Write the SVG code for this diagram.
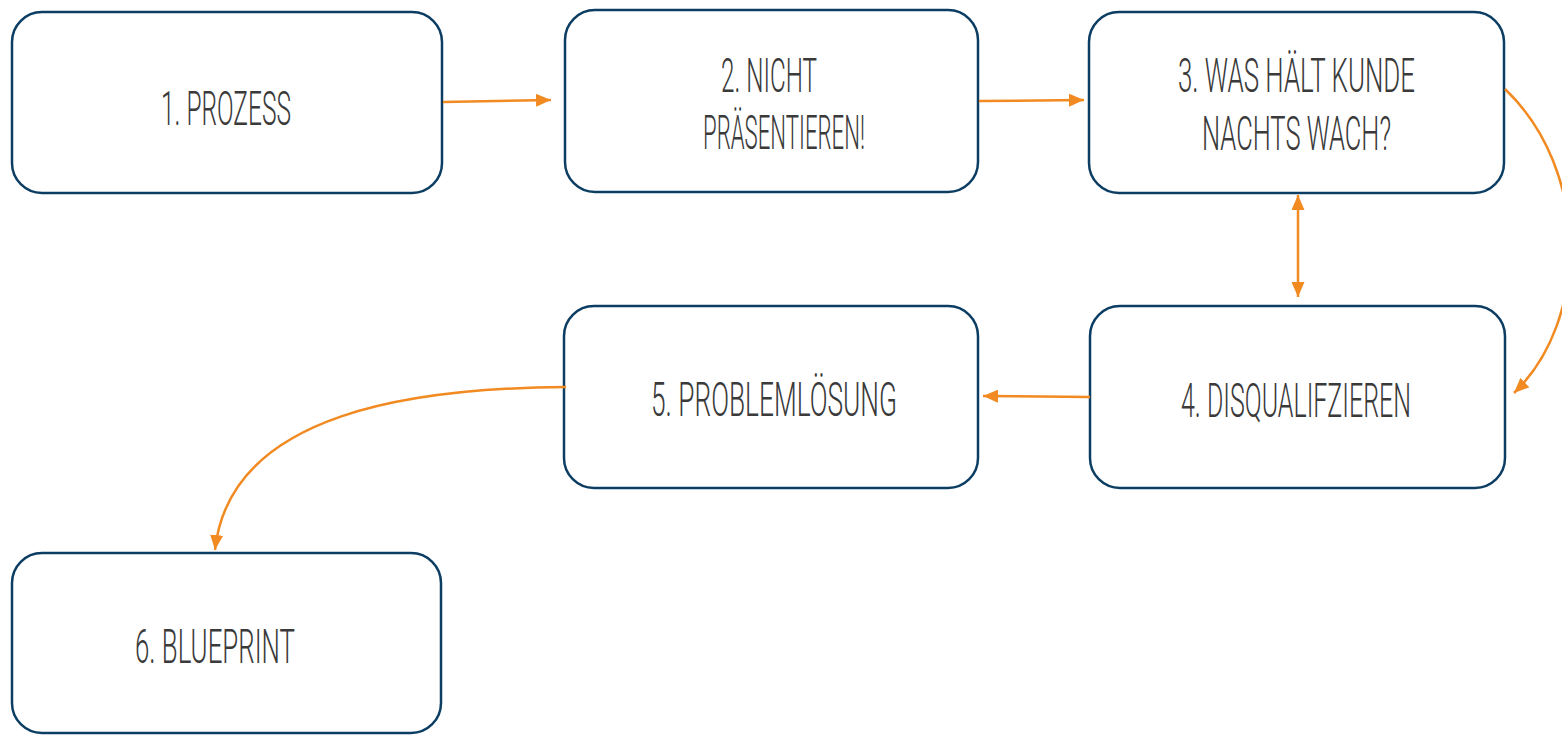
<svg xmlns="http://www.w3.org/2000/svg" width="1562" height="735" viewBox="0 0 1562 735">
  <style>
    .box { fill: #ffffff; stroke: #0c3d63; stroke-width: 2.5; }
    .lbl { font-family: Roboto, "Liberation Sans", Arial, sans-serif; font-weight: 300; font-size: 49px; fill: #3a3a3a; }
    .con { fill: none; stroke: #f28a22; stroke-width: 2.5; }
  </style>
  <defs>
    <marker id="ah" markerUnits="userSpaceOnUse" markerWidth="15" markerHeight="13" refX="15" refY="6.5" orient="auto-start-reverse">
      <path d="M0,0 L15,6.5 L0,13 z" fill="#f28a22"/>
    </marker>
  </defs>
  <rect width="1562" height="735" fill="#ffffff"/>

  <g id="n1">
    <rect class="box" x="12" y="12" width="430" height="181" rx="30"/>
    <text class="lbl" x="161" y="125" textLength="130" lengthAdjust="spacingAndGlyphs">1. PROZESS</text>
  </g>
  <g id="n2">
    <rect class="box" x="565" y="10" width="413" height="182" rx="30"/>
    <text class="lbl" x="721" y="92" textLength="96" lengthAdjust="spacingAndGlyphs">2. NICHT</text>
    <text class="lbl" x="703" y="149" textLength="162" lengthAdjust="spacingAndGlyphs">PRÄSENTIEREN!</text>
  </g>
  <g id="n3">
    <rect class="box" x="1089" y="12" width="415" height="181" rx="30"/>
    <text class="lbl" x="1178" y="92" textLength="237" lengthAdjust="spacingAndGlyphs">3. WAS HÄLT KUNDE</text>
    <text class="lbl" x="1202" y="150" textLength="189" lengthAdjust="spacingAndGlyphs">NACHTS WACH?</text>
  </g>
  <g id="n4">
    <rect class="box" x="1090" y="306" width="415" height="182" rx="30"/>
    <text class="lbl" x="1181" y="417" textLength="230" lengthAdjust="spacingAndGlyphs">4. DISQUALIFZIEREN</text>
  </g>
  <g id="n5">
    <rect class="box" x="564" y="306" width="414" height="182" rx="30"/>
    <text class="lbl" x="651" y="416" textLength="246" lengthAdjust="spacingAndGlyphs">5. PROBLEMLÖSUNG</text>
  </g>
  <g id="n6">
    <rect class="box" x="12" y="553" width="429" height="180" rx="30"/>
    <text class="lbl" x="135" y="663" textLength="160" lengthAdjust="spacingAndGlyphs">6. BLUEPRINT</text>
  </g>

  <g id="connectors">
    <path class="con" d="M443,102 L551,100" marker-end="url(#ah)"/>
    <path class="con" d="M979,101 L1084,100" marker-end="url(#ah)"/>
    <path class="con" d="M1505,89 C1590,170 1590,320 1514,393" marker-end="url(#ah)"/>
    <path class="con" d="M1298,195 L1298,297" marker-start="url(#ah)" marker-end="url(#ah)"/>
    <path class="con" d="M1090,397 L983,396" marker-end="url(#ah)"/>
    <path class="con" d="M566,387 C420,388 230,410 215,550" marker-end="url(#ah)"/>
  </g>
</svg>
